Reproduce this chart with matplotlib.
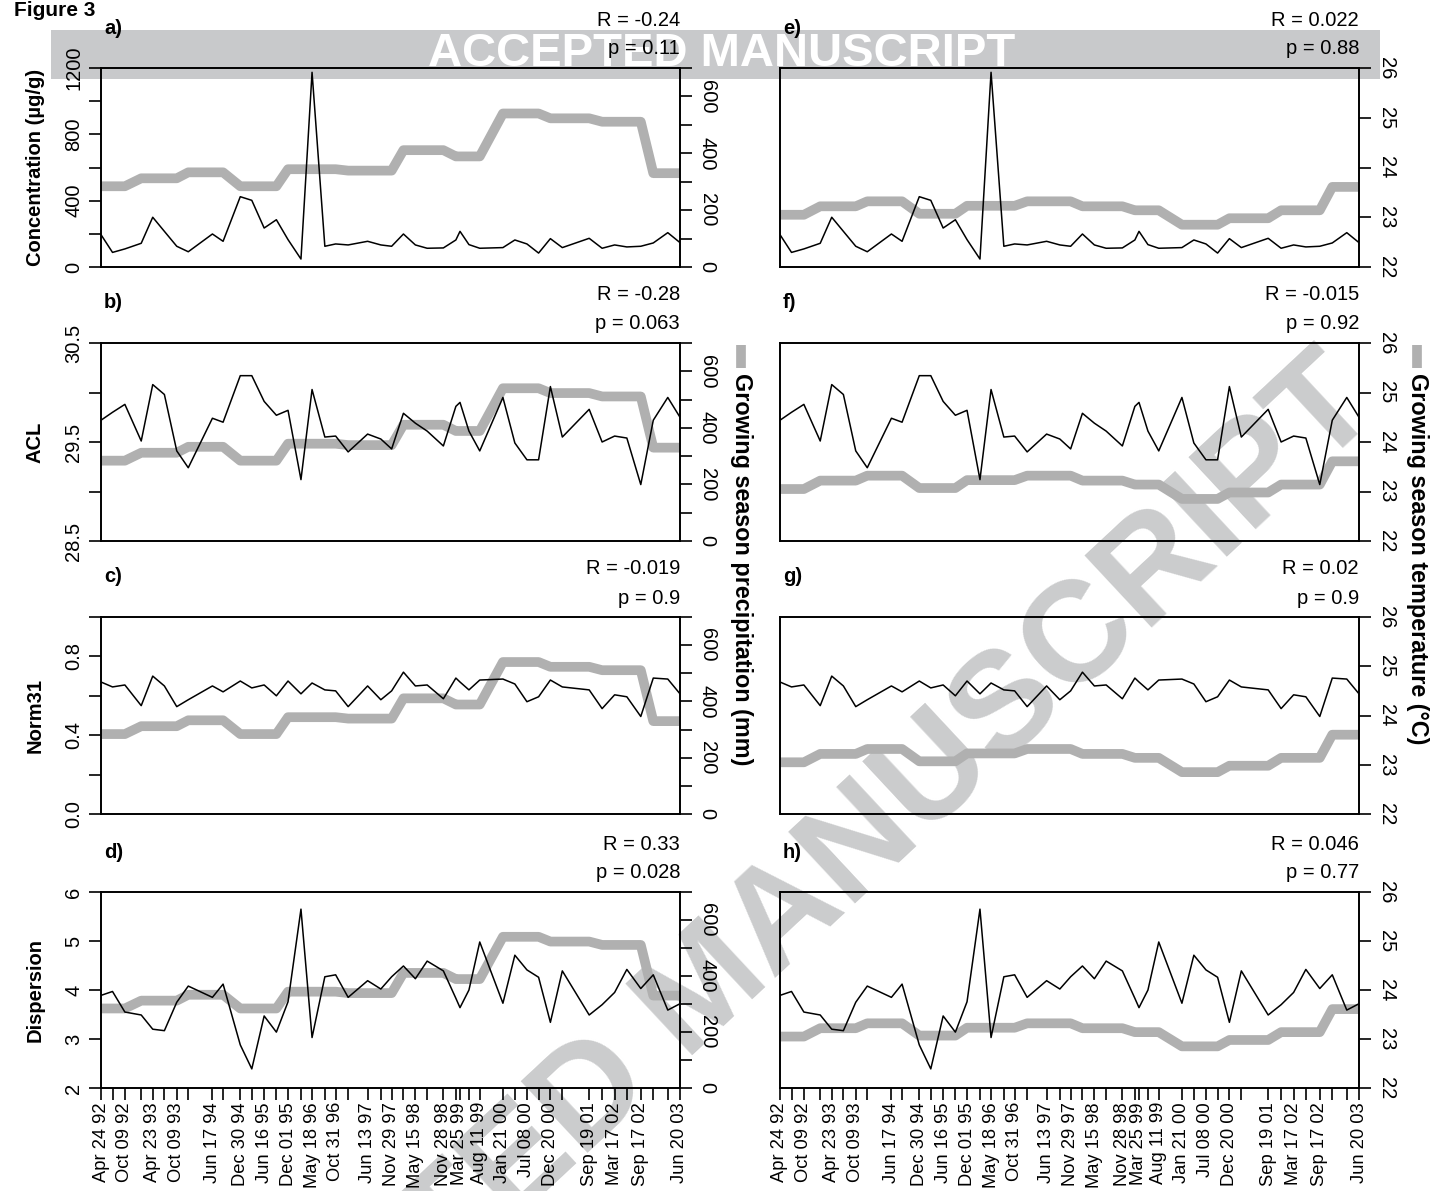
import numpy as np
import pandas as pd
import matplotlib
matplotlib.use('Agg')
import matplotlib.pyplot as plt
from matplotlib import font_manager
from matplotlib.lines import Line2D
from matplotlib.patches import Rectangle

installed = {f.name for f in font_manager.fontManager.ttflist}
narrow = 'Liberation Sans Narrow' if 'Liberation Sans Narrow' in installed else 'Liberation Sans'
plt.rcParams['font.family'] = ['Liberation Sans', 'DejaVu Sans']
plt.rcParams['font.size'] = 14.5

# sampling dates (one tick per sample)
sample_dates = ['1992-04-24', '1992-07-14', '1992-10-09', '1993-02-01', '1993-04-23',
                '1993-07-14', '1993-10-09', '1993-12-29', '1994-06-17', '1994-08-31',
                '1994-12-30', '1995-03-21', '1995-06-16', '1995-09-10', '1995-12-01',
                '1996-03-01', '1996-05-18', '1996-08-16', '1996-10-31', '1997-01-27',
                '1997-06-13', '1997-09-14', '1997-11-29', '1998-02-20', '1998-05-15',
                '1998-08-06', '1998-11-28', '1999-02-24', '1999-03-25', '1999-05-27',
                '1999-08-11', '2000-01-21', '2000-04-14', '2000-07-08', '2000-09-28',
                '2000-12-20', '2001-03-14', '2001-09-19', '2001-12-19', '2002-03-17',
                '2002-06-11', '2002-09-17', '2002-12-14', '2003-03-26', '2003-06-20']
# dates that get a label on the x axis
label_dates = ['1992-04-24', '1992-10-09', '1993-04-23', '1993-10-09', '1994-06-17',
               '1994-12-30', '1995-06-16', '1995-12-01', '1996-05-18', '1996-10-31',
               '1997-06-13', '1997-11-29', '1998-05-15', '1998-11-28', '1999-03-25',
               '1999-08-11', '2000-01-21', '2000-07-08', '2000-12-20', '2001-09-19',
               '2002-03-17', '2002-09-17', '2003-06-20']

conc = [195, 88, 109, 143, 300, 215, 125, 92, 199, 155, 424, 402, 235, 285, 165,
        48, 1174, 125, 139, 133, 155, 133, 125, 199, 133, 113, 115, 163, 215, 135,
        113, 117, 163, 139, 84, 171, 117, 173, 113, 133, 121, 125, 145, 207, 147]
acl = [29.72, 29.80, 29.88, 29.51, 30.08, 29.98, 29.41, 29.24, 29.74, 29.70,
       30.17, 30.17, 29.91, 29.77, 29.82, 29.12, 30.03, 29.55, 29.56, 29.40,
       29.58, 29.53, 29.43, 29.79, 29.69, 29.61, 29.46, 29.86, 29.90, 29.61,
       29.41, 29.95, 29.49, 29.32, 29.32, 30.06, 29.55, 29.83, 29.50, 29.56,
       29.54, 29.07, 29.72, 29.95, 29.75]
norm31 = [0.67, 0.645, 0.655, 0.55, 0.70, 0.65, 0.545, 0.58, 0.65, 0.62,
          0.675, 0.64, 0.655, 0.60, 0.675, 0.61, 0.665, 0.63, 0.625, 0.545,
          0.65, 0.58, 0.625, 0.72, 0.65, 0.655, 0.585, 0.69, 0.67, 0.63,
          0.68, 0.685, 0.66, 0.57, 0.595, 0.68, 0.645, 0.63, 0.535, 0.605,
          0.595, 0.495, 0.69, 0.685, 0.61]
disp = [3.89, 3.97, 3.55, 3.49, 3.20, 3.17, 3.75, 4.08, 3.85, 4.12,
        2.88, 2.39, 3.47, 3.14, 3.76, 5.65, 3.03, 4.27, 4.31, 3.85,
        4.19, 4.02, 4.27, 4.49, 4.23, 4.59, 4.39, 3.83, 3.64, 4.00,
        4.98, 3.73, 4.71, 4.41, 4.26, 3.34, 4.39, 3.49, 3.70, 3.95,
        4.42, 4.03, 4.31, 3.59, 3.72]
precip = [284, 284, 284, 312, 312, 312, 312, 333, 333, 333,
          284, 284, 284, 284, 344, 344, 344, 344, 344, 339,
          339, 339, 339, 411, 411, 411, 411, 389, 389, 389,
          389, 540, 540, 540, 540, 523, 523, 523, 511, 511,
          511, 511, 330, 330, 330]
temp = [23.05, 23.05, 23.05, 23.22, 23.22, 23.22, 23.22, 23.32, 23.32, 23.32,
        23.07, 23.07, 23.07, 23.07, 23.23, 23.23, 23.23, 23.23, 23.23, 23.32,
        23.32, 23.32, 23.32, 23.22, 23.22, 23.22, 23.22, 23.14, 23.14, 23.14,
        23.14, 22.85, 22.85, 22.85, 22.85, 22.98, 22.98, 22.98, 23.14, 23.14,
        23.14, 23.14, 23.61, 23.61, 23.61]

panel_letters = [['a)', 'b)', 'c)', 'd)'], ['e)', 'f)', 'g)', 'h)']]
r_text = [['-0.24', '-0.28', '-0.019', '0.33'], ['0.022', '-0.015', '0.02', '0.046']]
p_text = [['0.11', '0.063', '0.9', '0.028'], ['0.88', '0.92', '0.9', '0.77']]

left_names = ['Concentration (µg/g)', 'ACL', 'Norm31', 'Dispersion']
left_series = [conc, acl, norm31, disp]
left_lims = [(0, 1200), (28.5, 30.5), (0, 1), (2, 6)]
left_ticks = [[0, 200, 400, 600, 800, 1000, 1200],
              [28.5, 29.0, 29.5, 30.0, 30.5],
              [0, 0.2, 0.4, 0.6, 0.8, 1.0],
              [2, 3, 4, 5, 6]]
left_ticklabels = [['0', '', '400', '', '800', '', '1200'],
                   ['28.5', '', '29.5', '', '30.5'],
                   ['0.0', '', '0.4', '', '0.8', ''],
                   ['2', '3', '4', '5', '6']]
precip_ticks = [0, 100, 200, 300, 400, 500, 600, 700]
precip_ticklabels = ['0', '', '200', '', '400', '', '600', '']
temp_ticks = [22, 23, 24, 25, 26]

dates = pd.to_datetime(sample_dates)
xlabels = [pd.Timestamp(d).strftime('%b %d %y') if d in label_dates else ''
           for d in sample_dates]

GREY = '#b0b0b0'
W, H = 1432, 1191
fig = plt.figure(figsize=(W / 100, H / 100), dpi=100)

rows = [(68, 267), (343, 541), (617, 814), (892, 1088)]
cols = [(101, 680), (780, 1359)]
px = 0.72  # points per pixel

for j, (x0, x1) in enumerate(cols):
    for i, (y0, y1) in enumerate(rows):
        ax = fig.add_axes([x0 / W, 1 - y1 / H, (x1 - x0) / W, (y1 - y0) / H])
        ax2 = ax.twinx()
        ax.set_zorder(ax2.get_zorder() + 1)
        ax.patch.set_visible(False)
        ax2.patch.set_visible(False)

        if j == 0:
            ax2.plot(dates, precip, color=GREY, lw=7, solid_joinstyle='round',
                     solid_capstyle='butt')
            ax2.set_ylim(0, 700)
            ax2.set_yticks(precip_ticks, precip_ticklabels, rotation=-90, va='center')
        else:
            ax2.plot(dates, temp, color=GREY, lw=7, solid_joinstyle='round',
                     solid_capstyle='butt')
            ax2.set_ylim(22, 26)
            ax2.set_yticks(temp_ticks, [str(t) for t in temp_ticks], rotation=-90,
                           va='center')

        ax.plot(dates, left_series[i], color='black', lw=1.1)
        ax.set_ylim(*left_lims[i])
        ax.set_xlim(dates[0], dates[-1])

        if j == 0:
            ax.set_yticks(left_ticks[i], left_ticklabels[i], rotation=90, va='center')
            ax.set_ylabel(left_names[i], fontweight='bold')
            ax.yaxis.set_label_coords(-0.097, 0.5)
        else:
            ax.set_yticks([])

        if i == 3:
            ax.set_xticks(dates, xlabels, rotation=90)
        else:
            ax.set_xticks([])

        for a in (ax, ax2):
            for s in a.spines.values():
                s.set_linewidth(1.2)
            a.tick_params(length=8.6, width=1.2, pad=4)
        ax.tick_params(axis='x', pad=1.5, labelsize=13.2)

        ax.annotate(panel_letters[j][i], xy=(0, 1), xycoords='axes fraction',
                    xytext=(3 * px, 40 * px), textcoords='offset points',
                    ha='left', va='center', fontweight='bold')
        ax.annotate('R = ' + r_text[j][i], xy=(1, 1), xycoords='axes fraction',
                    xytext=(0, 48 * px), textcoords='offset points',
                    ha='right', va='center')
        ax.annotate('p = ' + p_text[j][i], xy=(1, 1), xycoords='axes fraction',
                    xytext=(0, 19 * px), textcoords='offset points',
                    ha='right', va='center')

# right-hand axis titles with a grey key
for xc, title in [(741, 'Growing season precipitation (mm)'),
                  (1417, 'Growing season temperature (°C)')]:
    fig.add_artist(Line2D([xc / W, xc / W], [1 - 345 / H, 1 - 368 / H],
                          transform=fig.transFigure, color=GREY, lw=7,
                          solid_capstyle='butt'))
    fig.text(xc / W, 1 - 373 / H, title, rotation=-90, ha='center', va='top',
             fontweight='bold', fontsize=16.8)

fig.text(14 / W, 1 - 16 / H, 'Figure 3', fontweight='bold', fontsize=15,
         ha='left', va='baseline')

# watermark (behind everything)
fig.add_artist(Rectangle((51 / W, 1 - 79 / H), (1380 - 51) / W, 49 / H,
                         transform=fig.transFigure, facecolor='#c8c9cb',
                         edgecolor='none', zorder=-10))
fig.text(722 / W, 1 - 54 / H, 'ACCEPTED MANUSCRIPT', fontsize=34, family=narrow,
         fontweight='bold', color='white', ha='center', va='center', zorder=-9)
fig.text(0.494, 0.168, 'ACCEPTED MANUSCRIPT', fontsize=103, family=narrow,
         fontweight='bold', color='#cbcccd', ha='center', va='center',
         rotation=43, rotation_mode='anchor', zorder=-10)

fig.savefig('out.png', dpi=100)
